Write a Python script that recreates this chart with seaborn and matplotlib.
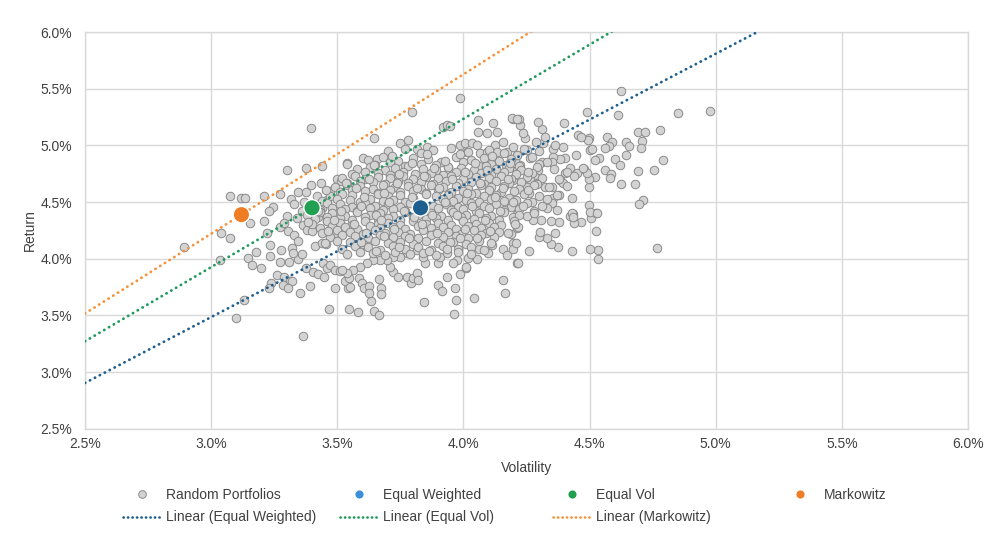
import matplotlib
matplotlib.use("Agg")
import matplotlib.pyplot as plt
from matplotlib.lines import Line2D
from matplotlib.ticker import FuncFormatter
import numpy as np
import pandas as pd
import seaborn as sns

# highlighted portfolios (volatility %, return %)
portfolio_names = ["Equal Weighted", "Equal Vol", "Markowitz"]
portfolio_vol = [3.83, 3.40, 3.12]
portfolio_ret = [4.45, 4.45, 4.39]

# random portfolios - outer points
outer_vol = [
    2.892, 3.038, 3.076, 3.154, 3.208, 3.035, 3.147, 3.177, 3.161, 3.196,
    3.220, 3.233, 3.232, 3.273, 3.278, 3.260, 3.237, 3.228, 3.289, 3.313,
    3.322, 3.284, 3.306, 3.130, 3.097, 3.365, 3.353, 3.392, 3.377, 3.402,
    3.422, 3.449, 3.310, 3.345, 3.359, 3.320, 3.323, 3.274, 3.306, 3.328,
    3.343, 3.365, 3.379, 3.398, 3.412, 3.438, 3.455, 3.425, 3.458, 3.471,
    3.491, 3.445, 3.458, 3.471, 3.492, 3.511, 3.468, 3.491, 3.544, 3.537,
    3.548, 3.583, 3.645, 3.665, 3.632, 3.844, 3.964, 3.969, 4.041, 3.899,
    3.914, 3.967, 3.935, 3.987, 4.009, 3.531, 3.546, 3.550, 3.587, 3.597,
    3.605, 3.626, 3.627, 3.666, 3.673, 3.674, 3.775, 3.791, 3.801, 3.815,
    3.821, 3.722, 3.742, 3.709, 4.155, 4.165, 4.211, 4.060, 4.055, 4.096,
    4.112, 4.158, 4.171, 4.198, 4.010, 4.017, 3.973, 3.960, 3.900, 3.907,
    3.934, 3.848, 3.841, 3.815, 3.775, 3.748, 3.722, 3.696, 3.669, 3.643,
    3.617, 3.590, 3.563, 3.537, 3.517, 4.766, 4.535, 4.535, 4.503, 4.527,
    4.431, 4.376, 4.347, 4.330, 4.301, 4.363, 4.302, 4.259, 4.215, 4.195,
    4.208, 4.465, 4.438, 4.504, 4.525, 4.377, 4.347, 4.306, 4.276, 4.251,
    4.211, 4.198, 4.211, 4.215, 4.422, 4.435, 4.626, 4.977, 4.851, 4.488,
    4.613, 4.780, 4.692, 4.720, 4.706, 4.570, 4.644, 4.656, 4.588, 4.578,
    4.561, 4.702, 4.643, 4.791, 4.754, 4.690, 4.601, 4.620, 4.538, 4.521,
    4.560, 4.585, 4.581, 4.626, 4.679, 4.713, 4.696, 4.498, 4.498, 4.521,
    4.499, 4.478, 4.488, 4.503, 4.508, 4.498, 4.492, 4.453, 4.465, 4.398,
    4.445, 4.396, 4.402, 4.383, 4.356, 4.364, 4.317, 4.313, 4.294, 4.288,
    4.323, 4.244, 4.235, 4.224, 4.221, 4.198, 4.422, 4.402, 4.449, 4.475,
    4.383, 4.396, 4.350, 4.323, 4.380, 4.356, 4.350, 4.330, 4.370, 4.430,
    4.436, 4.502, 4.528, 4.297, 4.284, 4.264, 4.290, 4.251, 4.211, 4.224,
    4.198, 4.356, 4.350, 4.313, 4.264, 4.251, 4.211, 4.204, 3.986, 3.795,
    3.645, 3.921, 3.934, 3.947, 3.748, 3.781, 3.815, 3.857, 3.603, 3.656,
    3.537, 4.059, 4.059, 4.092, 4.116, 4.132, 4.191, 4.211, 3.986, 4.006,
    4.033, 4.053, 4.013, 4.066, 4.092, 4.125, 4.158, 4.132, 4.171, 4.198,
    4.211, 3.395, 3.299, 3.375, 3.438, 3.076, 3.118, 3.133, 3.211, 3.273,
    3.244, 3.230, 3.316, 3.346, 3.375, 3.396, 3.434, 3.497, 3.513, 3.537,
    3.330, 3.360, 3.300, 3.340, 3.370, 3.420, 3.440, 3.470, 3.460, 3.290,
]
outer_ret = [
    4.102, 4.231, 4.184, 4.319, 4.337, 3.990, 4.011, 4.058, 3.949, 3.917,
    4.231, 4.125, 4.028, 3.970, 4.076, 3.855, 3.790, 3.746, 3.843, 3.808,
    3.805, 3.767, 3.741, 3.638, 3.481, 3.323, 3.697, 3.761, 3.917, 3.887,
    3.864, 3.840, 3.975, 3.996, 4.043, 4.094, 4.049, 4.284, 4.249, 4.211,
    4.158, 4.299, 4.255, 4.246, 4.114, 4.137, 4.131, 4.372, 4.337, 4.255,
    4.226, 3.961, 3.917, 3.946, 3.902, 3.896, 3.558, 3.746, 3.741, 3.814,
    3.558, 3.529, 3.543, 3.505, 3.629, 3.623, 3.511, 3.640, 3.653, 3.772,
    3.714, 3.746, 3.837, 3.864, 3.922, 3.808, 3.829, 3.750, 3.829, 3.790,
    3.741, 3.761, 3.702, 3.820, 3.743, 3.690, 3.840, 3.785, 3.834, 3.873,
    3.814, 3.887, 3.843, 3.931, 3.814, 3.702, 3.966, 4.085, 4.002, 4.049,
    4.123, 4.085, 4.034, 4.138, 3.926, 4.011, 3.990, 3.961, 3.961, 4.019,
    4.049, 3.961, 4.019, 4.078, 4.049, 4.019, 4.019, 3.990, 3.990, 3.990,
    3.961, 3.931, 3.902, 3.873, 3.902, 4.099, 3.999, 4.076, 4.085, 4.246,
    4.072, 4.105, 4.134, 4.187, 4.196, 4.226, 4.240, 4.067, 3.966, 4.087,
    4.138, 4.328, 4.319, 4.363, 4.408, 4.328, 4.337, 4.343, 4.340, 4.378,
    4.396, 4.367, 4.270, 4.284, 4.381, 4.396, 5.483, 5.304, 5.287, 5.298,
    5.270, 5.137, 5.119, 5.119, 5.043, 5.078, 5.031, 4.998, 5.028, 4.998,
    4.981, 4.974, 4.919, 4.869, 4.783, 4.775, 4.878, 4.828, 4.892, 4.872,
    4.784, 4.746, 4.716, 4.660, 4.660, 4.522, 4.481, 4.471, 4.637, 4.725,
    4.705, 4.793, 4.755, 4.960, 4.969, 5.063, 5.048, 5.093, 5.072, 5.196,
    4.916, 4.989, 4.892, 4.884, 4.972, 5.004, 5.019, 5.146, 5.205, 5.031,
    5.078, 5.063, 5.108, 5.181, 5.234, 5.234, 4.799, 4.755, 4.755, 4.799,
    4.696, 4.667, 4.637, 4.637, 4.563, 4.534, 4.490, 4.446, 4.431, 4.402,
    4.372, 4.416, 4.402, 4.784, 4.725, 4.696, 4.667, 4.637, 4.784, 4.828,
    4.696, 4.901, 4.857, 4.857, 4.887, 4.960, 4.916, 4.872, 5.416, 5.298,
    5.063, 5.166, 5.181, 5.172, 5.019, 5.048, 4.966, 4.989, 4.892, 4.878,
    4.843, 5.225, 5.122, 5.108, 5.196, 5.122, 5.240, 5.231, 5.004, 5.019,
    5.019, 5.004, 4.945, 4.931, 4.945, 5.004, 5.034, 4.945, 4.945, 4.989,
    4.916, 5.157, 4.784, 4.799, 4.819, 4.552, 4.534, 4.534, 4.555, 4.570,
    4.455, 4.425, 4.528, 4.593, 4.593, 4.652, 4.672, 4.701, 4.690, 4.837,
    4.480, 4.420, 4.380, 4.360, 4.500, 4.550, 4.450, 4.600, 4.520, 4.320,
]

# random portfolios - dense core of the cloud
core_vol = [
    3.70, 3.77, 3.83, 3.88, 3.95, 4.02, 4.10, 4.16, 4.24, 4.30,
    3.62, 3.68, 3.74, 3.80, 3.86, 3.91, 3.97, 4.03, 4.08, 4.14, 4.19, 4.27, 4.33,
    3.65, 3.71, 3.77, 3.83, 3.89, 3.94, 4.00, 4.06, 4.11, 4.17, 4.22, 4.30,
    3.58, 3.63, 3.69, 3.73, 3.78, 3.84, 3.89, 3.94, 3.99, 4.04, 4.09, 4.13, 4.18, 4.23, 4.29, 4.36, 4.41,
    3.56, 3.61, 3.66, 3.71, 3.76, 3.81, 3.87, 3.92, 3.97, 4.02, 4.07, 4.11, 4.16, 4.21, 4.27,
    3.52, 3.57, 3.61, 3.66, 3.71, 3.76, 3.80, 3.85, 3.90, 3.95, 4.00, 4.05, 4.10, 4.15, 4.19, 4.25, 4.31, 4.38, 4.44,
    3.54, 3.59, 3.64, 3.69, 3.74, 3.78, 3.83, 3.88, 3.93, 3.98, 4.03, 4.08, 4.13, 4.18, 4.23, 4.29,
    3.49, 3.54, 3.59, 3.64, 3.68, 3.73, 3.78, 3.83, 3.87, 3.92, 3.97, 4.02, 4.07, 4.11, 4.16, 4.22, 4.28, 4.34, 4.41,
    3.51, 3.56, 3.61, 3.66, 3.71, 3.75, 3.80, 3.85, 3.90, 3.95, 4.00, 4.05, 4.10, 4.15, 4.20, 4.26,
    3.47, 3.52, 3.56, 3.61, 3.66, 3.70, 3.75, 3.80, 3.85, 3.89, 3.94, 3.98, 4.03, 4.08, 4.13, 4.18, 4.24, 4.30, 4.37, 4.43,
    3.44, 3.50, 3.55, 3.59, 3.63, 3.68, 3.72, 3.77, 3.92, 3.96, 4.01, 4.06, 4.11, 4.16, 4.21, 4.27, 4.33,
    3.40, 3.46, 3.51, 3.56, 3.61, 3.65, 3.70, 3.75, 3.79, 3.88, 3.93, 3.98, 4.03, 4.08, 4.13, 4.19, 4.25, 4.31,
    3.43, 3.48, 3.53, 3.58, 3.63, 3.68, 3.72, 3.77, 3.90, 3.95, 4.00, 4.05, 4.10, 4.16, 4.22, 4.28,
    3.38, 3.43, 3.48, 3.53, 3.58, 3.63, 3.67, 3.72, 3.77, 3.82, 3.87, 3.91, 3.96, 4.01, 4.06, 4.11, 4.16, 4.22, 4.28,
    3.41, 3.46, 3.51, 3.56, 3.61, 3.66, 3.70, 3.75, 3.80, 3.85, 3.89, 3.94, 3.99, 4.04, 4.09, 4.14,
    3.40, 3.46, 3.51, 3.56, 3.61, 3.66, 3.70, 3.75, 3.80, 3.85, 3.90, 3.95, 4.00, 4.05, 4.10, 4.15, 4.20,
    3.43, 3.48, 3.53, 3.58, 3.63, 3.67, 3.72, 3.77, 3.82, 3.87, 3.92, 3.97, 4.02, 4.07, 4.12,
    3.44, 3.50, 3.55, 3.60, 3.65, 3.69, 3.74, 3.79, 3.84, 3.89, 3.94, 3.99, 4.04, 4.09, 4.14, 4.19,
    3.47, 3.52, 3.57, 3.62, 3.67, 3.72, 3.77, 3.82, 3.87, 3.92, 3.97, 4.02, 4.07, 4.12,
    3.45, 3.50, 3.55, 3.60, 3.65, 3.70, 3.75, 3.80, 3.85, 3.90, 3.96, 4.01, 4.06, 4.11,
    3.52, 3.57, 3.62, 3.67, 3.72, 3.77, 3.82, 3.87, 3.92, 3.98, 4.03, 4.08,
    3.54, 3.59, 3.64, 3.69, 3.73, 3.79, 3.84, 3.89, 3.98, 4.03,
]
core_ret = [
    4.95, 4.97, 4.93, 4.96, 4.98, 4.94, 4.96, 4.93, 4.97, 4.95,
    4.87, 4.90, 4.86, 4.89, 4.88, 4.85, 4.90, 4.87, 4.89, 4.86, 4.88, 4.90, 4.85,
    4.83, 4.85, 4.82, 4.84, 4.83, 4.81, 4.85, 4.82, 4.84, 4.83, 4.82, 4.84,
    4.79, 4.81, 4.78, 4.80, 4.82, 4.79, 4.78, 4.81, 4.80, 4.78, 4.82, 4.79, 4.80, 4.78, 4.81, 4.79, 4.77,
    4.75, 4.77, 4.76, 4.74, 4.77, 4.75, 4.76, 4.74, 4.77, 4.75, 4.76, 4.74, 4.77, 4.75, 4.76,
    4.71, 4.73, 4.70, 4.72, 4.71, 4.73, 4.70, 4.72, 4.71, 4.73, 4.70, 4.72, 4.71, 4.73, 4.70, 4.72, 4.71, 4.70, 4.73,
    4.67, 4.69, 4.68, 4.66, 4.69, 4.67, 4.68, 4.66, 4.69, 4.67, 4.68, 4.66, 4.69, 4.67, 4.68, 4.66,
    4.63, 4.65, 4.64, 4.62, 4.65, 4.63, 4.64, 4.62, 4.65, 4.63, 4.64, 4.62, 4.65, 4.63, 4.64, 4.62, 4.65, 4.63, 4.64,
    4.59, 4.61, 4.60, 4.58, 4.61, 4.59, 4.60, 4.58, 4.61, 4.59, 4.60, 4.58, 4.61, 4.59, 4.60, 4.58,
    4.55, 4.57, 4.56, 4.54, 4.57, 4.55, 4.56, 4.54, 4.57, 4.55, 4.56, 4.54, 4.57, 4.55, 4.56, 4.54, 4.57, 4.55, 4.56, 4.54,
    4.51, 4.53, 4.52, 4.50, 4.53, 4.51, 4.52, 4.50, 4.53, 4.51, 4.52, 4.50, 4.53, 4.51, 4.52, 4.50, 4.53,
    4.47, 4.49, 4.48, 4.46, 4.49, 4.47, 4.48, 4.46, 4.49, 4.47, 4.48, 4.46, 4.49, 4.47, 4.48, 4.46, 4.49, 4.47,
    4.43, 4.45, 4.44, 4.42, 4.45, 4.43, 4.44, 4.42, 4.45, 4.43, 4.44, 4.42, 4.45, 4.43, 4.44, 4.42,
    4.39, 4.41, 4.40, 4.38, 4.41, 4.39, 4.40, 4.38, 4.41, 4.39, 4.40, 4.38, 4.41, 4.39, 4.40, 4.38, 4.41, 4.39, 4.40,
    4.35, 4.37, 4.36, 4.34, 4.37, 4.35, 4.36, 4.34, 4.37, 4.35, 4.36, 4.34, 4.37, 4.35, 4.36, 4.34,
    4.31, 4.33, 4.32, 4.30, 4.33, 4.31, 4.32, 4.30, 4.33, 4.31, 4.32, 4.30, 4.33, 4.31, 4.32, 4.30, 4.33,
    4.27, 4.29, 4.28, 4.26, 4.29, 4.27, 4.28, 4.26, 4.29, 4.27, 4.28, 4.26, 4.29, 4.27, 4.28,
    4.23, 4.25, 4.24, 4.22, 4.25, 4.23, 4.24, 4.22, 4.25, 4.23, 4.24, 4.22, 4.25, 4.23, 4.24, 4.22,
    4.19, 4.21, 4.20, 4.18, 4.21, 4.19, 4.20, 4.18, 4.21, 4.19, 4.20, 4.18, 4.21, 4.19,
    4.14, 4.16, 4.15, 4.13, 4.16, 4.14, 4.15, 4.13, 4.16, 4.14, 4.15, 4.13, 4.16, 4.14,
    4.09, 4.11, 4.10, 4.08, 4.11, 4.09, 4.10, 4.08, 4.11, 4.09, 4.10, 4.08,
    4.04, 4.06, 4.05, 4.03, 4.06, 4.04, 4.05, 4.03, 4.06, 4.04,
]

# extra points filling the gaps inside the core
fill_vol = [
    3.575, 3.625, 3.685, 3.735, 3.795, 3.845, 3.905, 3.955, 4.015, 4.065,
    4.125, 4.175, 3.595, 3.655, 3.705, 3.765, 3.925, 3.975, 4.035, 4.085,
    4.145, 4.195, 3.565, 3.615, 3.675, 3.725, 3.785, 3.835, 3.895, 3.945,
    4.005, 4.055, 3.595, 3.655, 3.745, 3.865, 3.935, 3.515, 3.485, 3.535,
    3.645, 3.715, 3.795, 3.855, 3.925, 3.985, 4.045, 4.115, 4.185, 4.255,
    4.255, 4.235, 4.205, 4.175, 3.465, 3.425, 3.385, 3.455, 3.605, 3.875,
    3.745, 3.815, 3.885, 4.005, 4.095, 4.155, 3.685, 3.805, 3.985, 4.105,
]
fill_ret = [
    4.625, 4.705, 4.585, 4.665, 4.545, 4.735, 4.625, 4.705, 4.585, 4.665,
    4.545, 4.705, 4.465, 4.385, 4.505, 4.425, 4.505, 4.385, 4.465, 4.345,
    4.425, 4.505, 4.305, 4.225, 4.345, 4.265, 4.185, 4.305, 4.225, 4.145,
    4.265, 4.185, 4.145, 4.065, 4.105, 4.065, 4.085, 4.425, 4.345, 4.665,
    4.825, 4.905, 4.845, 4.925, 4.865, 4.925, 4.845, 4.905, 4.845, 4.765,
    4.605, 4.465, 4.305, 4.225, 4.245, 4.425, 4.325, 4.605, 4.545, 4.385,
    4.745, 4.625, 4.805, 4.765, 4.785, 4.625, 4.205, 4.365, 4.185, 4.245,
]

x_ticks = [2.5, 3.0, 3.5, 4.0, 4.5, 5.0, 5.5, 6.0]
y_ticks = [2.5, 3.0, 3.5, 4.0, 4.5, 5.0, 5.5, 6.0]

point_colors = ["#1f5f8f", "#22a052", "#ee7d23"]
legend_dot_colors = ["#3b8fd9", "#22a052", "#ee7d23"]
line_colors = ["#1f5f8f", "#1f9a5e", "#f7923a"]
text_color = "#404040"
grid_color = "#d9d9d9"

sns.set_theme(style="white")
plt.rcParams["font.family"] = ["Liberation Sans", "DejaVu Sans"]

random_df = pd.DataFrame({"vol": outer_vol + core_vol + fill_vol,
                          "ret": outer_ret + core_ret + fill_ret})

fig = plt.figure(figsize=(10, 5.36), dpi=100)
ax = fig.add_axes([0.085, 0.2, 0.883, 0.74])

sns.scatterplot(data=random_df, x="vol", y="ret", ax=ax, s=38,
                color="#d3d3d3", edgecolor="#8a8a8a", linewidth=0.7, zorder=2)

# linear trendlines through the origin (Excel "Linear" with intercept 0)
x_line = np.array([x_ticks[0], x_ticks[-1]])
for i, name in enumerate(portfolio_names):
    slope = portfolio_ret[i] / portfolio_vol[i]
    line_df = pd.DataFrame({"vol": x_line, "ret": slope * x_line})
    sns.lineplot(data=line_df, x="vol", y="ret", ax=ax, color=line_colors[i],
                 linewidth=2.0, linestyle=(0, (0.1, 1.9)),
                 dash_capstyle="round", zorder=3)

hl_df = pd.DataFrame({"vol": portfolio_vol, "ret": portfolio_ret, "name": portfolio_names})
sns.scatterplot(data=hl_df, x="vol", y="ret", hue="name", palette=point_colors,
                ax=ax, s=140, edgecolor="white", linewidth=1.0, zorder=4,
                legend=False)

ax.set_xlim(x_ticks[0], x_ticks[-1])
ax.set_ylim(y_ticks[0], y_ticks[-1])
ax.set_xticks(x_ticks)
ax.set_yticks(y_ticks)
pct = FuncFormatter(lambda v, p: "{:.1f}%".format(v))
ax.xaxis.set_major_formatter(pct)
ax.yaxis.set_major_formatter(pct)
ax.grid(True, color=grid_color, linewidth=1)
ax.set_axisbelow(True)
for sp in ax.spines.values():
    sp.set_color(grid_color)
    sp.set_linewidth(1)
ax.tick_params(axis="both", length=0, labelsize=10, labelcolor=text_color)
ax.tick_params(axis="x", pad=6)
ax.tick_params(axis="y", pad=9.5)
ax.set_xlabel("Volatility", fontsize=10, color=text_color, labelpad=7)
ax.set_ylabel("Return", fontsize=10, color=text_color, labelpad=2)

# legend: four fixed-width columns like the original
dots = dict(linestyle=(0, (0.1, 1.6)), linewidth=1.9, dash_capstyle="round")
col1 = [Line2D([], [], marker="o", linestyle="", markersize=5.5,
               markerfacecolor="#d3d3d3", markeredgecolor="#8a8a8a", markeredgewidth=0.7),
        Line2D([], [], color=line_colors[0], **dots)]
col2 = [Line2D([], [], marker="o", linestyle="", markersize=6.5,
               markerfacecolor=legend_dot_colors[0], markeredgecolor="white", markeredgewidth=0.6),
        Line2D([], [], color=line_colors[1], **dots)]
col3 = [Line2D([], [], marker="o", linestyle="", markersize=6.5,
               markerfacecolor=legend_dot_colors[1], markeredgecolor="white", markeredgewidth=0.6),
        Line2D([], [], color=line_colors[2], **dots)]
col4 = [Line2D([], [], marker="o", linestyle="", markersize=6.5,
               markerfacecolor=legend_dot_colors[2], markeredgecolor="white", markeredgewidth=0.6)]
labels = [["Random Portfolios", "Linear (Equal Weighted)"],
          ["Equal Weighted", "Linear (Equal Vol)"],
          ["Equal Vol", "Linear (Markowitz)"],
          ["Markowitz"]]
col_x = [0.123, 0.340, 0.553, 0.781]
for handles, labs, xpos in zip([col1, col2, col3, col4], labels, col_x):
    leg = fig.legend(handles, labs, loc="upper left", bbox_to_anchor=(xpos, 0.090),
                     bbox_transform=fig.transFigure, frameon=False, fontsize=10,
                     handlelength=2.7, handletextpad=0.4, labelspacing=0.62,
                     borderpad=0, borderaxespad=0)
    for t in leg.get_texts():
        t.set_color(text_color)

fig.savefig("out.png", dpi=100)
